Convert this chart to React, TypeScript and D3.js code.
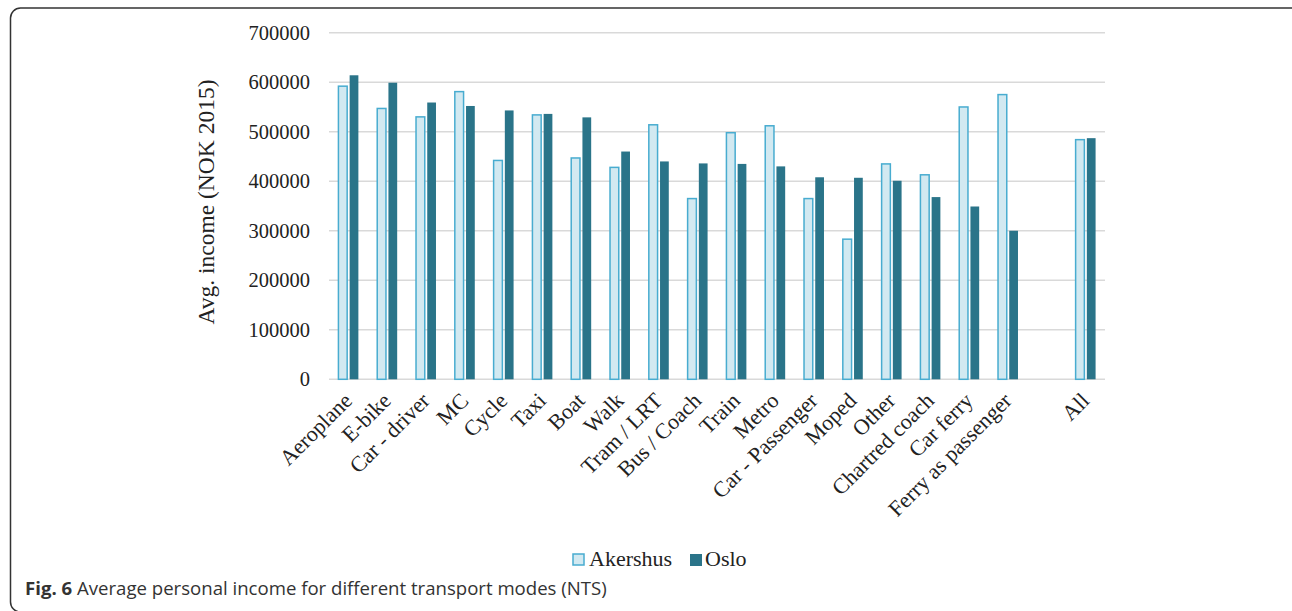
import React, { useEffect, useRef } from "react";
import * as d3 from "d3";

// Categories (an empty slot sits before "All")
const categories = [
  "Aeroplane",
  "E-bike",
  "Car - driver",
  "MC",
  "Cycle",
  "Taxi",
  "Boat",
  "Walk",
  "Tram / LRT",
  "Bus / Coach",
  "Train",
  "Metro",
  "Car - Passenger",
  "Moped",
  "Other",
  "Chartred coach",
  "Car ferry",
  "Ferry as passenger",
  "",
  "All",
];

// Average income, NOK 2015 (null = empty slot)
const akershus = [
  592000, 547000, 530000, 581000, 442000, 534000, 447000, 428000, 514000,
  365000, 498000, 512000, 365000, 283000, 435000, 413000, 550000, 575000,
  null, 484000,
];
const oslo = [
  614000, 599000, 559000, 552000, 543000, 536000, 529000, 460000, 440000,
  436000, 435000, 430000, 408000, 407000, 401000, 368000, 349000, 300000,
  null, 487000,
];

const series = ["Akershus", "Oslo"];
const yTicks = [0, 100000, 200000, 300000, 400000, 500000, 600000, 700000];

const serif = "'Liberation Serif', 'Times New Roman', serif";

const App: React.FC = () => {
  const svgRef = useRef<SVGSVGElement>(null);

  useEffect(() => {
    const svg = d3.select(svgRef.current);
    svg.selectAll("*").remove();

    const left = 329;
    const right = 1105;
    const top = 32.7;
    const bottom = 379.3;

    // frame around the figure
    svg
      .append("rect")
      .attr("x", 10.5)
      .attr("y", 8)
      .attr("width", 1290)
      .attr("height", 604)
      .attr("rx", 10)
      .attr("fill", "none")
      .attr("stroke", "#333")
      .attr("stroke-width", 1.5);

    const keys = categories.map((c, i) => (c === "" ? `__gap${i}` : c));

    const x = d3.scaleBand<string>().domain(keys).range([left, right]);
    const xInner = d3
      .scaleBand<string>()
      .domain(series)
      .range([0, x.bandwidth()])
      .paddingInner(0.22)
      .paddingOuter(0.84);

    const y = d3.scaleLinear().domain([0, 700000]).range([bottom, top]);

    const g = svg.append("g");

    // gridlines
    g.selectAll(".grid")
      .data(yTicks)
      .enter()
      .append("line")
      .attr("x1", left)
      .attr("x2", right)
      .attr("y1", (d) => y(d))
      .attr("y2", (d) => y(d))
      .attr("stroke", "#d9d9d9")
      .attr("stroke-width", 1.5);

    // y tick labels
    g.selectAll(".ytick")
      .data(yTicks)
      .enter()
      .append("text")
      .attr("x", 310)
      .attr("y", (d) => y(d))
      .attr("dy", "0.35em")
      .attr("text-anchor", "end")
      .attr("font-family", serif)
      .attr("font-size", 20.5)
      .attr("fill", "#222")
      .text((d) => String(d));

    // y axis title
    g.append("text")
      .attr("transform", `translate(214,202) rotate(-90)`)
      .attr("text-anchor", "middle")
      .attr("font-family", serif)
      .attr("font-size", 23.5)
      .attr("fill", "#222")
      .text("Avg. income (NOK 2015)");

    const rows = keys.map((k, i) => ({ key: k, ak: akershus[i], os: oslo[i] }));

    // Akershus bars
    g.selectAll(".ak")
      .data(rows.filter((r) => r.ak !== null))
      .enter()
      .append("rect")
      .attr("x", (d) => (x(d.key) as number) + (xInner("Akershus") as number))
      .attr("y", (d) => y(d.ak as number))
      .attr("width", xInner.bandwidth())
      .attr("height", (d) => bottom - y(d.ak as number))
      .attr("fill", "#d2e9f1")
      .attr("stroke", "#48acd0")
      .attr("stroke-width", 1.5);

    // Oslo bars
    g.selectAll(".os")
      .data(rows.filter((r) => r.os !== null))
      .enter()
      .append("rect")
      .attr("x", (d) => (x(d.key) as number) + (xInner("Oslo") as number))
      .attr("y", (d) => y(d.os as number))
      .attr("width", xInner.bandwidth())
      .attr("height", (d) => bottom - y(d.os as number))
      .attr("fill", "#2a7489");

    // x labels, rotated
    g.selectAll(".xlab")
      .data(rows.filter((r) => !r.key.startsWith("__gap")))
      .enter()
      .append("text")
      .attr(
        "transform",
        (d) =>
          `translate(${(x(d.key) as number) + x.bandwidth() / 2 + 5},402) rotate(-45)`
      )
      .attr("text-anchor", "end")
      .attr("font-family", serif)
      .attr("font-size", 22)
      .attr("fill", "#222")
      .text((d) => d.key);

    // legend
    const lg = svg.append("g");
    lg.append("rect")
      .attr("x", 573)
      .attr("y", 554)
      .attr("width", 11)
      .attr("height", 11)
      .attr("fill", "#d2e9f1")
      .attr("stroke", "#48acd0")
      .attr("stroke-width", 1.5);
    lg.append("text")
      .attr("x", 589)
      .attr("y", 566)
      .attr("font-family", serif)
      .attr("font-size", 22)
      .attr("fill", "#222")
      .text("Akershus");
    lg.append("rect")
      .attr("x", 690)
      .attr("y", 554)
      .attr("width", 12)
      .attr("height", 12)
      .attr("fill", "#2a7489");
    lg.append("text")
      .attr("x", 705)
      .attr("y", 566)
      .attr("font-family", serif)
      .attr("font-size", 22)
      .attr("fill", "#222")
      .text("Oslo");

    // caption
    const cap = svg
      .append("text")
      .attr("x", 25)
      .attr("y", 595)
      .attr("font-family", "'Open Sans', 'Noto Sans', sans-serif")
      .attr("font-size", 18.6)
      .attr("fill", "#333");
    cap.append("tspan").attr("font-weight", "bold").text("Fig. 6");
    cap
      .append("tspan")
      .text(" Average personal income for different transport modes (NTS)");
  }, []);

  return (
    <div style={{ position: "absolute", left: 0, top: 0 }}>
      <svg ref={svgRef} width={1292} height={611} style={{ display: "block" }}></svg>
    </div>
  );
};

export default App;
